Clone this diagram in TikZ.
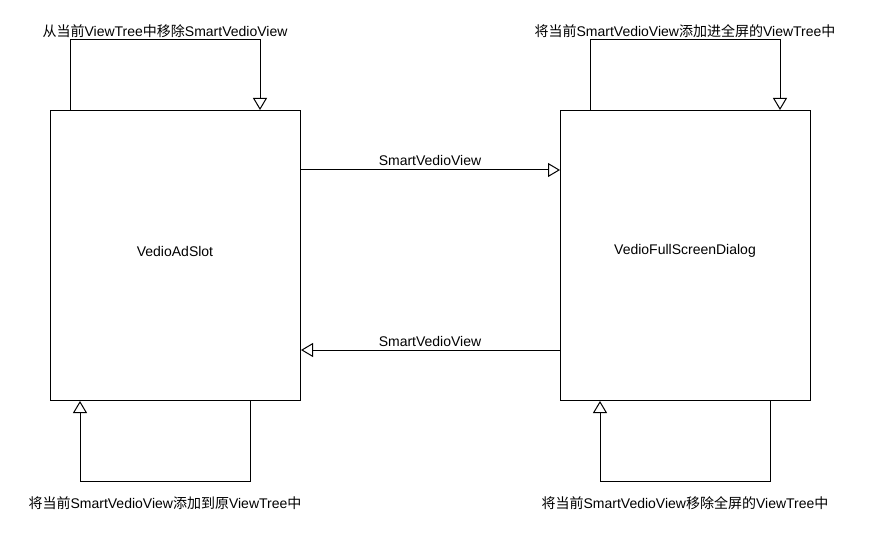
\documentclass[tikz,border=0pt]{standalone}
\usepackage{fontspec}
\setmainfont{Liberation Sans}
\newfontfamily\cjk{Noto Sans CJK SC}
\usetikzlibrary{arrows.meta,calc}

\tikzset{
  box/.style={draw,line width=1pt,minimum width=250pt,minimum height=290pt,inner sep=0pt},
  flow/.style={line width=1pt,-{Triangle[open,length=12pt,width=14pt]}},
  lbl/.style={inner sep=0pt,font=\fontsize{14}{16}\selectfont}
}

\begin{document}
\begin{tikzpicture}[x=1pt,y=-1pt]
\useasboundingbox (0,0) rectangle (870,540);

% boxes
\node[box,lbl,anchor=north west] (adslot) at (50,110) {};
\node[box,lbl,anchor=north west] (fullscreen) at (560,110) {};
\node[lbl] (adslottxt) at (175,251) {VedioAdSlot};
\node[lbl] (fullscreentxt) at (685,251) {VedioFullScreenDialog};

% middle arrows
\draw[flow] ($(adslot.north east)+(0,60)$) -- ($(fullscreen.north west)+(0,60)$);
\draw[flow] ($(fullscreen.north west)+(0,240)$) -- ($(adslot.north east)+(0,240)$);
\node[lbl] (up) at (430,160) {SmartVedioView};
\node[lbl] (down) at (430,341) {SmartVedioView};

% loops
\draw[flow] ($(adslot.north west)+(20,0)$) -- ++(0,-70) -| ($(adslot.north west)+(210,0)$);
\draw[flow] ($(fullscreen.north west)+(30,0)$) -- ++(0,-70) -| ($(fullscreen.north west)+(220,0)$);
\draw[flow] ($(adslot.south west)+(200,0)$) -- ++(0,80) -| ($(adslot.south west)+(30,0)$);
\draw[flow] ($(fullscreen.south west)+(210,0)$) -- ++(0,80) -| ($(fullscreen.south west)+(40,0)$);

% labels
\node[lbl] (remove) at (165,31) {{\cjk 从当前}ViewTree{\cjk 中移除}SmartVedioView};
\node[lbl] (addfull) at (685,31) {{\cjk 将当前}SmartVedioView{\cjk 添加进全屏的}ViewTree{\cjk 中}};
\node[lbl] (addback) at (165,503) {{\cjk 将当前}SmartVedioView{\cjk 添加到原}ViewTree{\cjk 中}};
\node[lbl] (removefull) at (685,503) {{\cjk 将当前}SmartVedioView{\cjk 移除全屏的}ViewTree{\cjk 中}};
\end{tikzpicture}
\end{document}
